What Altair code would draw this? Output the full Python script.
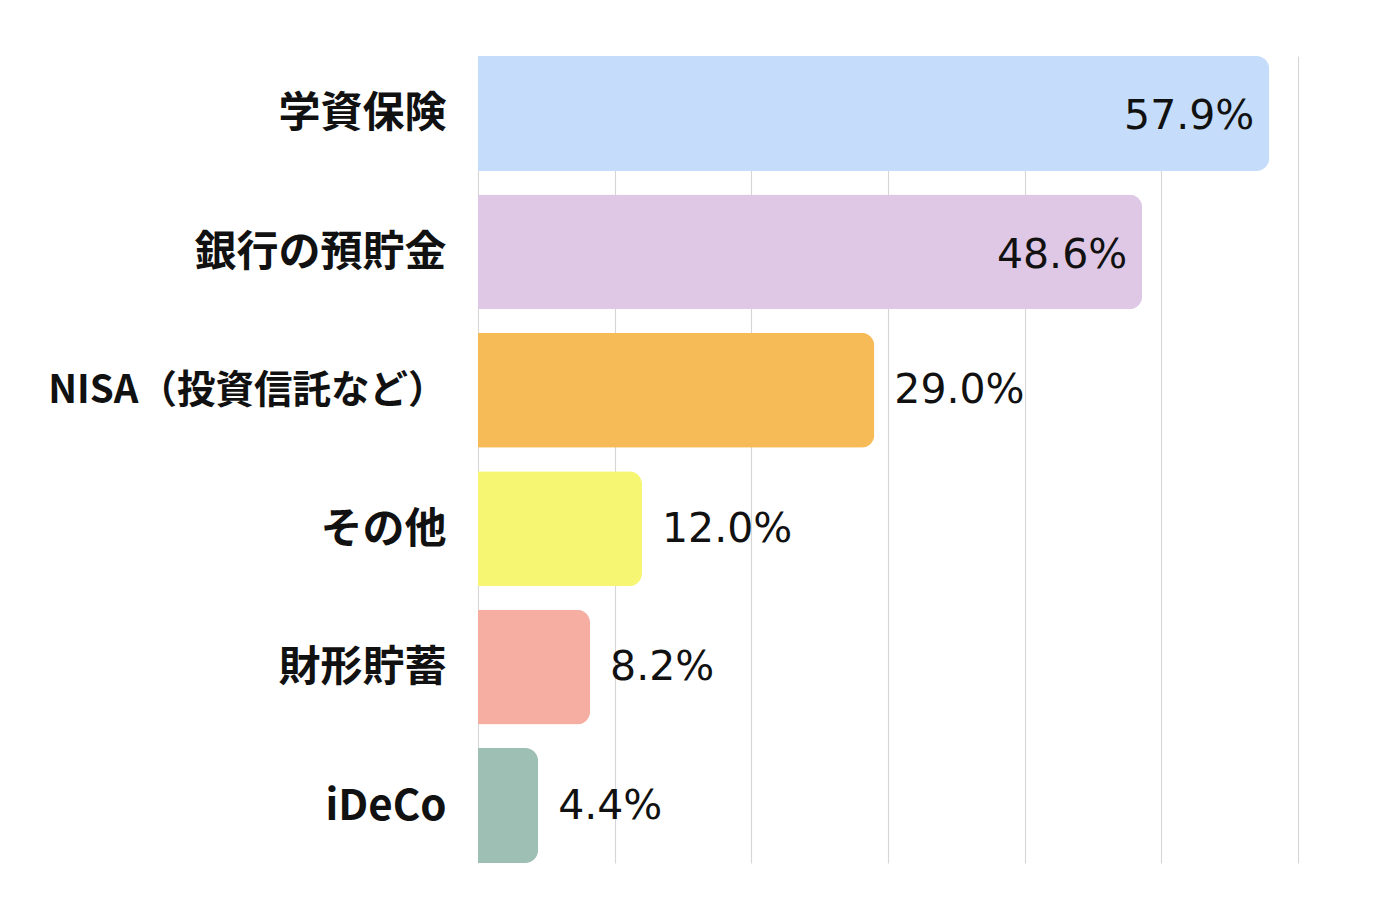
import altair as alt
import pandas as pd

categories = ["学資保険", "銀行の預貯金", "NISA（投資信託など）", "その他", "財形貯蓄", "iDeCo"]
values = [57.9, 48.6, 29.0, 12.0, 8.2, 4.4]
labels = ["57.9%", "48.6%", "29.0%", "12.0%", "8.2%", "4.4%"]
colors = ["#c5ddfb", "#dfc8e6", "#f6bb57", "#f6f673", "#f5aea1", "#9ebfb3"]

df = pd.DataFrame({"cat": categories, "val": values, "label": labels})

y_enc = alt.Y("cat:N", sort=categories, title=None,
              scale=alt.Scale(paddingInner=0.17, paddingOuter=0),
              axis=alt.Axis(domain=False, ticks=False, labelFont="Noto Sans CJK JP",
                            labelFontWeight="bold",
                            labelFontSize={"expr": "length(datum.label) > 8 ? 38.5 : 42"},
                            labelColor="#111111",
                            labelPadding=32, labelLimit=500, labelOffset=1))
x_enc = alt.X("val:Q", title=None, scale=alt.Scale(domain=[0, 60], nice=False),
              axis=alt.Axis(domain=False, ticks=False, labels=False, values=[0, 10, 20, 30, 40, 50, 60],
                            grid=True, gridColor="#d6d6d6", gridWidth=1.1))

bars = alt.Chart(df).mark_bar(cornerRadiusEnd=13).encode(
    y=y_enc, x=x_enc,
    color=alt.Color("cat:N", scale=alt.Scale(domain=categories, range=colors), legend=None),
)

text_in = alt.Chart(df).transform_filter("datum.val > 40").mark_text(
    align="right", baseline="middle", dx=-15, dy=4, fontSize=41, font="DejaVu Sans", color="#111111"
).encode(y=alt.Y("cat:N", sort=categories), x="val:Q", text="label:N")

text_out = alt.Chart(df).transform_filter("datum.val <= 40").mark_text(
    align="left", baseline="middle", dx=20, dy=1, fontSize=41, font="DejaVu Sans", color="#111111"
).encode(y=alt.Y("cat:N", sort=categories), x="val:Q", text="label:N")

chart = alt.layer(bars, text_in, text_out).properties(
    width=820, height=807,
    autosize=alt.AutoSizeParams(type="none"),
    padding={"left": 478, "top": 56, "right": 82, "bottom": 57},
    background="white",
).configure_view(stroke=None)

chart.save("out.html", embed_options={"renderer": "svg", "actions": False})
